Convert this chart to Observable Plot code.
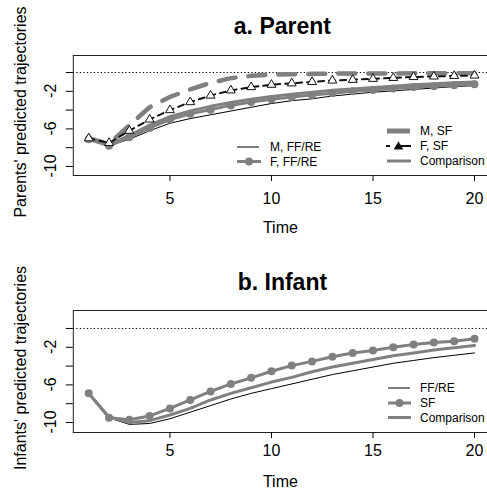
<!DOCTYPE html>
<html>
<head>
<meta charset="utf-8">
<script src="https://cdn.jsdelivr.net/npm/d3@7"></script>
<script src="https://cdn.jsdelivr.net/npm/@observablehq/plot@0.6"></script>
<style>
  html, body { margin: 0; padding: 0; background: #fff; overflow: hidden; }
  #chart svg { display: block; }
</style>
</head>
<body>
<div id="chart"></div>
<script>
// ---------- data ----------
const time = [1,2,3,4,5,6,7,8,9,10,11,12,13,14,15,16,17,18,19,20];

// Panel a: Parent
const parentMFF  = [-7.1,-7.8,-7.1,-6.2,-5.4,-4.9,-4.5,-4.1,-3.7,-3.3,-3.0,-2.8,-2.5,-2.3,-2.1,-1.95,-1.8,-1.65,-1.5,-1.4];
const parentFFF  = [-7.1,-7.8,-6.9,-5.9,-5.0,-4.4,-3.95,-3.5,-3.15,-2.85,-2.6,-2.4,-2.2,-2.0,-1.85,-1.7,-1.55,-1.45,-1.35,-1.25];
const parentMSF  = [-7.0,-7.6,-5.6,-3.7,-2.6,-1.8,-1.1,-0.6,-0.35,-0.22,-0.18,-0.14,-0.12,-0.1,-0.1,-0.1,-0.08,-0.08,-0.08,-0.08];
const parentFSF  = [-7.0,-7.5,-6.2,-5.0,-4.0,-3.15,-2.45,-1.9,-1.55,-1.3,-1.15,-1.0,-0.85,-0.78,-0.67,-0.57,-0.48,-0.42,-0.36,-0.32];
const parentComp = [-7.1,-7.7,-6.7,-5.6,-4.7,-4.1,-3.6,-3.2,-2.85,-2.55,-2.3,-2.1,-1.9,-1.75,-1.6,-1.45,-1.3,-1.2,-1.1,-1.0];

// Panel b: Infant
const infantFF   = [-6.9,-9.5,-10.2,-10.1,-9.6,-8.9,-8.2,-7.5,-6.9,-6.4,-5.9,-5.4,-4.9,-4.5,-4.1,-3.7,-3.4,-3.1,-2.85,-2.6];
const infantSF   = [-6.9,-9.5,-9.7,-9.3,-8.5,-7.6,-6.7,-5.9,-5.25,-4.55,-3.95,-3.5,-3.0,-2.6,-2.35,-2.0,-1.7,-1.5,-1.35,-1.1];
const infantComp = [-6.9,-9.4,-10.0,-9.8,-9.2,-8.5,-7.6,-6.9,-6.3,-5.7,-5.2,-4.6,-4.1,-3.7,-3.3,-2.9,-2.6,-2.3,-2.05,-1.8];

// ticks & labels
const xTicks = [5,10,15,20];
const yTicks = [-10,-8,-6,-4,-2,0];
const yTickLabels = [-10,-6,-2];
const titleA = "a. Parent";
const titleB = "b. Infant";
const yLabelA = "Parents' predicted trajectories";
const yLabelB = "Infants' predicted trajectories";
const xLabel = "Time";
const legendLabelsA = ["M, FF/RE","F, FF/RE","M, SF","F, SF","Comparison"];
const legendLabelsB = ["FF/RE","SF","Comparison"];

// ---------- styling ----------
const GRAY = "#808080";
const FONT = "'Liberation Sans', Arial, Helvetica, sans-serif";
const rows = arr => time.map((t, i) => ({t, v: arr[i]}));

function basePanel({height, marginTop, marginBottom, yDomain, title, tickPad, timeDy, titleDy, marks}) {
  return Plot.plot({
    width: 487, height,
    marginLeft: 72.8, marginRight: 0, marginTop, marginBottom,
    style: {fontFamily: FONT, fontSize: "16px", background: "white", color: "black", overflow: "visible"},
    x: {domain: [0.24, 20.64]},
    y: {domain: yDomain},
    marks: [
      Plot.ruleY([0], {stroke: "black", strokeWidth: 1, strokeDasharray: "1.3,2.2"}),
      ...marks,
      Plot.frame({stroke: "#222", strokeWidth: 1}),
      Plot.axisX({ticks: xTicks, tickSize: 6, tickPadding: tickPad, fontSize: 16, label: null}),
      Plot.axisY({ticks: yTicks, tickSize: 7, tickFormat: () => "", label: null}),
      Plot.text([title], {text: d => d, frameAnchor: "top", lineAnchor: "bottom", dy: titleDy, dx: 2,
        fontSize: 23, fontWeight: "bold"}),
      Plot.text([xLabel], {text: d => d, frameAnchor: "bottom", lineAnchor: "bottom", dy: timeDy, fontSize: 16})
    ]
  });
}

// rotated y tick labels and y title, positioned with the plot's own y scale
function addYTexts(svg, yLabel, frameTop, frameBottom) {
  const ys = svg.scale("y");
  // a group rotated by -90deg: screen (x, y) corresponds to local (-y, x)
  const g = d3.select(svg).append("g").attr("transform", "rotate(-90)")
    .attr("font-family", FONT).attr("font-size", 16)
    .attr("text-anchor", "middle").attr("fill", "black");
  for (const v of yTickLabels) {
    g.append("text").attr("x", -ys.apply(v)).attr("y", 49.8)
      .attr("dy", "0.36em").attr("text-anchor", "middle").text(String(v));
  }
  g.append("text").attr("x", -((frameTop + frameBottom) / 2 - 3)).attr("y", 20.5)
    .attr("dy", "0.32em").attr("text-anchor", "middle").text(yLabel);
}

// ---------- panel a ----------
const svgA = basePanel({
  height: 245, marginTop: 55, marginBottom: 70, yDomain: [-10.96, 1.81],
  title: titleA, tickPad: 11, timeDy: 57, titleDy: -22,
  marks: [
    Plot.line(rows(parentMFF), {x: "t", y: "v", stroke: "black", strokeWidth: 1}),
    Plot.line(rows(parentFFF), {x: "t", y: "v", stroke: GRAY, strokeWidth: 3}),
    Plot.dot(rows(parentFFF), {x: "t", y: "v", r: 4, fill: GRAY}),
    Plot.line(rows(parentComp), {x: "t", y: "v", stroke: GRAY, strokeWidth: 3}),
    Plot.line(rows(parentMSF), {x: "t", y: "v", stroke: GRAY, strokeWidth: 4.5, strokeDasharray: "17,13"}),
    Plot.line(rows(parentFSF), {x: "t", y: "v", stroke: "#111", strokeWidth: 2, strokeDasharray: "6,5"}),
    Plot.dot(rows(parentFSF), {x: "t", y: "v", symbol: "triangle", r: 3.3, fill: "white", stroke: "#111", strokeWidth: 1})
  ]
});
addYTexts(svgA, yLabelA, 55, 175);

// ---------- panel b ----------
const svgB = basePanel({
  height: 244, marginTop: 65, marginBottom: 57, yDomain: [-11.06, 1.91],
  title: titleB, tickPad: 6, timeDy: 54, titleDy: -21,
  marks: [
    Plot.line(rows(infantFF), {x: "t", y: "v", stroke: "black", strokeWidth: 1}),
    Plot.line(rows(infantComp), {x: "t", y: "v", stroke: GRAY, strokeWidth: 3}),
    Plot.line(rows(infantSF), {x: "t", y: "v", stroke: GRAY, strokeWidth: 3}),
    Plot.dot(rows(infantSF), {x: "t", y: "v", r: 4, fill: GRAY})
  ]
});
addYTexts(svgB, yLabelB, 65, 187);

// ---------- legends ----------
function drawLegend(svg, items) {
  const g = d3.select(svg).append("g").attr("font-family", FONT).attr("font-size", 12).attr("text-anchor", "start");
  for (const it of items) {
    const gi = g.append("g");
    const line = gi.append("line").attr("x1", it.x0).attr("x2", it.x1).attr("y1", it.y).attr("y2", it.y)
      .attr("stroke", it.stroke).attr("stroke-width", it.sw);
    if (it.dash) line.attr("stroke-dasharray", it.dash);
    const cx = (it.x0 + it.x1) / 2;
    if (it.sym === "circle") gi.append("circle").attr("cx", cx).attr("cy", it.y).attr("r", 4).attr("fill", GRAY);
    if (it.sym === "triangle") gi.append("path").attr("d", d3.symbol(d3.symbolTriangle, 40)()).attr("transform", `translate(${cx},${it.y + 0.8})`).attr("fill", "#111");
    gi.append("text").attr("x", it.tx).attr("y", it.y).attr("dy", "0.35em").attr("fill", "black")
      .attr("text-anchor", "start").text(it.label);
  }
}
drawLegend(svgA, [
  {label: legendLabelsA[0], x0: 237, x1: 259, tx: 270, y: 147, stroke: "black", sw: 1},
  {label: legendLabelsA[1], x0: 237, x1: 261, tx: 270, y: 161.5, stroke: GRAY, sw: 3, sym: "circle"},
  {label: legendLabelsA[2], x0: 387, x1: 410, tx: 420, y: 131, stroke: GRAY, sw: 5},
  {label: legendLabelsA[3], x0: 386, x1: 411, tx: 420, y: 146, stroke: "#111", sw: 2, dash: "4,6.5,15,6.5", sym: "triangle"},
  {label: legendLabelsA[4], x0: 387, x1: 411, tx: 420, y: 161, stroke: GRAY, sw: 3}
]);
drawLegend(svgB, [
  {label: legendLabelsB[0], x0: 388, x1: 410, tx: 420, y: 143, stroke: "black", sw: 1},
  {label: legendLabelsB[1], x0: 388, x1: 411, tx: 420, y: 158, stroke: GRAY, sw: 3, sym: "circle"},
  {label: legendLabelsB[2], x0: 388, x1: 411, tx: 420, y: 172.5, stroke: GRAY, sw: 3}
]);

document.getElementById("chart").append(svgA, svgB);
</script>
</body>
</html>
